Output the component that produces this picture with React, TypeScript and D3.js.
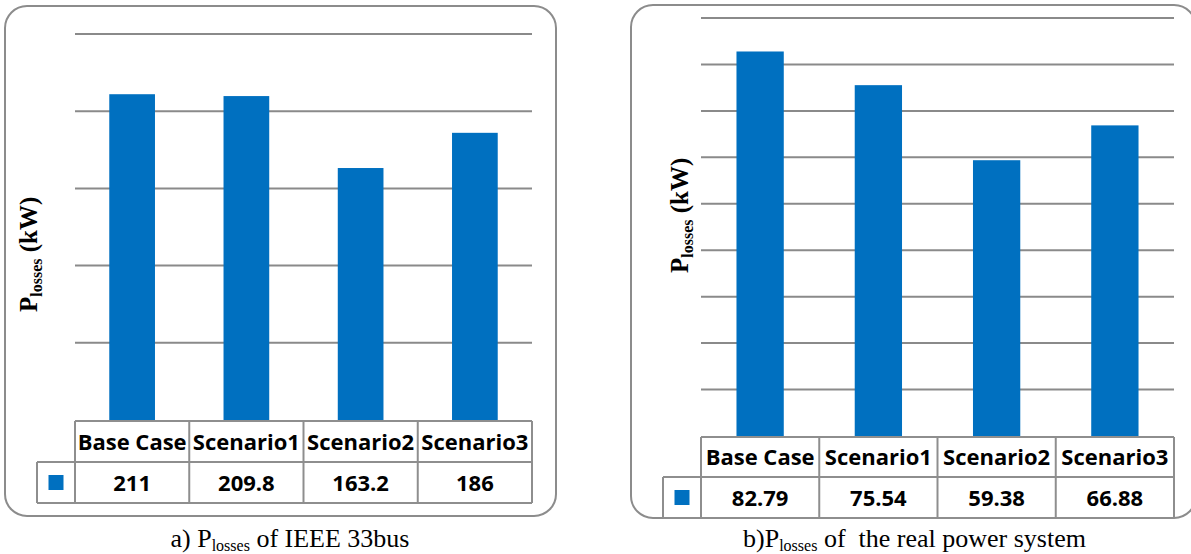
import React from "react";
import * as d3 from "d3";

// Scenario names shared by both panels
const categories = ["Base Case", "Scenario1", "Scenario2", "Scenario3"];

// Power losses (kW) for the IEEE 33-bus test feeder
const ieee33Losses = [211, 209.8, 163.2, 186];
const ieee33Ticks = [0, 50, 100, 150, 200, 250];

// Power losses (kW) for the real distribution system
const realLosses = [82.79, 75.54, 59.38, 66.88];
const realTicks = [0, 10, 20, 30, 40, 50, 60, 70, 80, 90];

const BAR_COLOR = "#0070C0";
const GRID_COLOR = "#8a8a8a";
const TABLE_FONT = "'Open Sans', 'DejaVu Sans', sans-serif";
const SERIF_FONT = "'Liberation Serif', 'Times New Roman', serif";

type PanelProps = {
  values: number[];
  ticks: number[];
  frame: { x: number; y: number; w: number; h: number; r: number };
  plot: { x0: number; x1: number; yTop: number; yBase: number };
  table: { top: number; mid: number; bottom: number; legendLeft: number };
  yLabel: { x: number; y: number };
  caption: { x: number; y: number; prefix: string; suffix: string };
};

function Panel({ values, ticks, frame, plot, table, yLabel, caption }: PanelProps) {
  const x = d3.scaleBand<string>().domain(categories).range([plot.x0, plot.x1]).padding(0);
  const y = d3
    .scaleLinear()
    .domain([0, d3.max(ticks) as number])
    .range([plot.yBase, plot.yTop]);
  const bw = x.bandwidth();
  const barW = bw * 0.4;
  const colEdges = categories.map((c) => x(c) as number).concat([plot.x1]);
  const headerMid = (table.top + table.mid) / 2;
  const valueMid = (table.mid + table.bottom) / 2;

  return (
    <g>
      {/* rounded chart frame */}
      <rect
        x={frame.x}
        y={frame.y}
        width={frame.w}
        height={frame.h}
        rx={frame.r}
        ry={frame.r}
        fill="#fff"
        stroke="#8c8c8c"
        strokeWidth={2}
      />
      {/* horizontal gridlines */}
      {ticks
        .filter((t) => t > 0)
        .map((t) => (
          <line
            key={t}
            x1={plot.x0}
            x2={plot.x1}
            y1={y(t)}
            y2={y(t)}
            stroke={GRID_COLOR}
            strokeWidth={2}
          />
        ))}
      {/* bars */}
      {values.map((v, i) => {
        const cx = (x(categories[i]) as number) + bw / 2;
        return (
          <rect
            key={categories[i]}
            x={cx - barW / 2}
            y={y(v)}
            width={barW}
            height={y(0) - y(v)}
            fill={BAR_COLOR}
          />
        );
      })}
      {/* data table */}
      <g stroke="#8e8e8e" strokeWidth={2} fill="none">
        <line x1={plot.x0} x2={plot.x1} y1={table.top} y2={table.top} />
        <line x1={table.legendLeft} x2={plot.x1} y1={table.mid} y2={table.mid} />
        <line x1={table.legendLeft} x2={plot.x1} y1={table.bottom} y2={table.bottom} />
        <line x1={table.legendLeft} x2={table.legendLeft} y1={table.mid} y2={table.bottom} />
        {colEdges.map((cx, i) => (
          <line key={i} x1={cx} x2={cx} y1={table.top} y2={table.bottom} />
        ))}
      </g>
      <rect
        x={(table.legendLeft + plot.x0) / 2 - 7.5}
        y={valueMid - 7.5}
        width={15}
        height={15}
        fill={BAR_COLOR}
      />
      {categories.map((c, i) => {
        const cx = (x(c) as number) + bw / 2;
        return (
          <g key={c} fontFamily={TABLE_FONT} fontWeight={700} fontSize={22} fill="#000" textAnchor="middle">
            <text x={cx} y={headerMid + 8}>{c}</text>
            <text x={cx} y={valueMid + 8}>{String(values[i])}</text>
          </g>
        );
      })}
      {/* vertical axis title */}
      <text
        transform={`translate(${yLabel.x},${yLabel.y}) rotate(-90)`}
        fontFamily={SERIF_FONT}
        fontWeight={700}
        fontSize={25}
        fill="#000"
      >
        P
        <tspan fontSize={16} dy={5}>losses</tspan>
        <tspan dy={-5}> (kW)</tspan>
      </text>
      {/* caption */}
      <text
        x={caption.x}
        y={caption.y}
        textAnchor="middle"
        fontFamily={SERIF_FONT}
        fontSize={26}
        fill="#000"
        style={{ whiteSpace: "pre" }}
      >
        {caption.prefix}
        <tspan fontSize={16} dy={4}>losses</tspan>
        <tspan dy={-4}>{caption.suffix}</tspan>
      </text>
    </g>
  );
}

export default function App() {
  return (
    <div style={{ position: "absolute", left: 0, top: 0 }}>
      <svg width={1191} height={554} viewBox="0 0 1191 554" style={{ display: "block", background: "#fff" }}>
        <rect width={1191} height={554} fill="#fff" />
        <Panel
          values={ieee33Losses}
          ticks={ieee33Ticks}
          frame={{ x: 5, y: 6, w: 551, h: 510, r: 22 }}
          plot={{ x0: 75, x1: 532, yTop: 34, yBase: 420 }}
          table={{ top: 421, mid: 462, bottom: 503, legendLeft: 37 }}
          yLabel={{ x: 37, y: 312 }}
          caption={{ x: 290, y: 547, prefix: "a) P", suffix: " of IEEE 33bus" }}
        />
        <Panel
          values={realLosses}
          ticks={realTicks}
          frame={{ x: 631, y: 5, w: 565, h: 513, r: 22 }}
          plot={{ x0: 701, x1: 1174, yTop: 18, yBase: 436 }}
          table={{ top: 437, mid: 477, bottom: 518, legendLeft: 663 }}
          yLabel={{ x: 688, y: 273 }}
          caption={{ x: 914.5, y: 547, prefix: "b)P", suffix: " of  the real power system" }}
        />
      </svg>
    </div>
  );
}
